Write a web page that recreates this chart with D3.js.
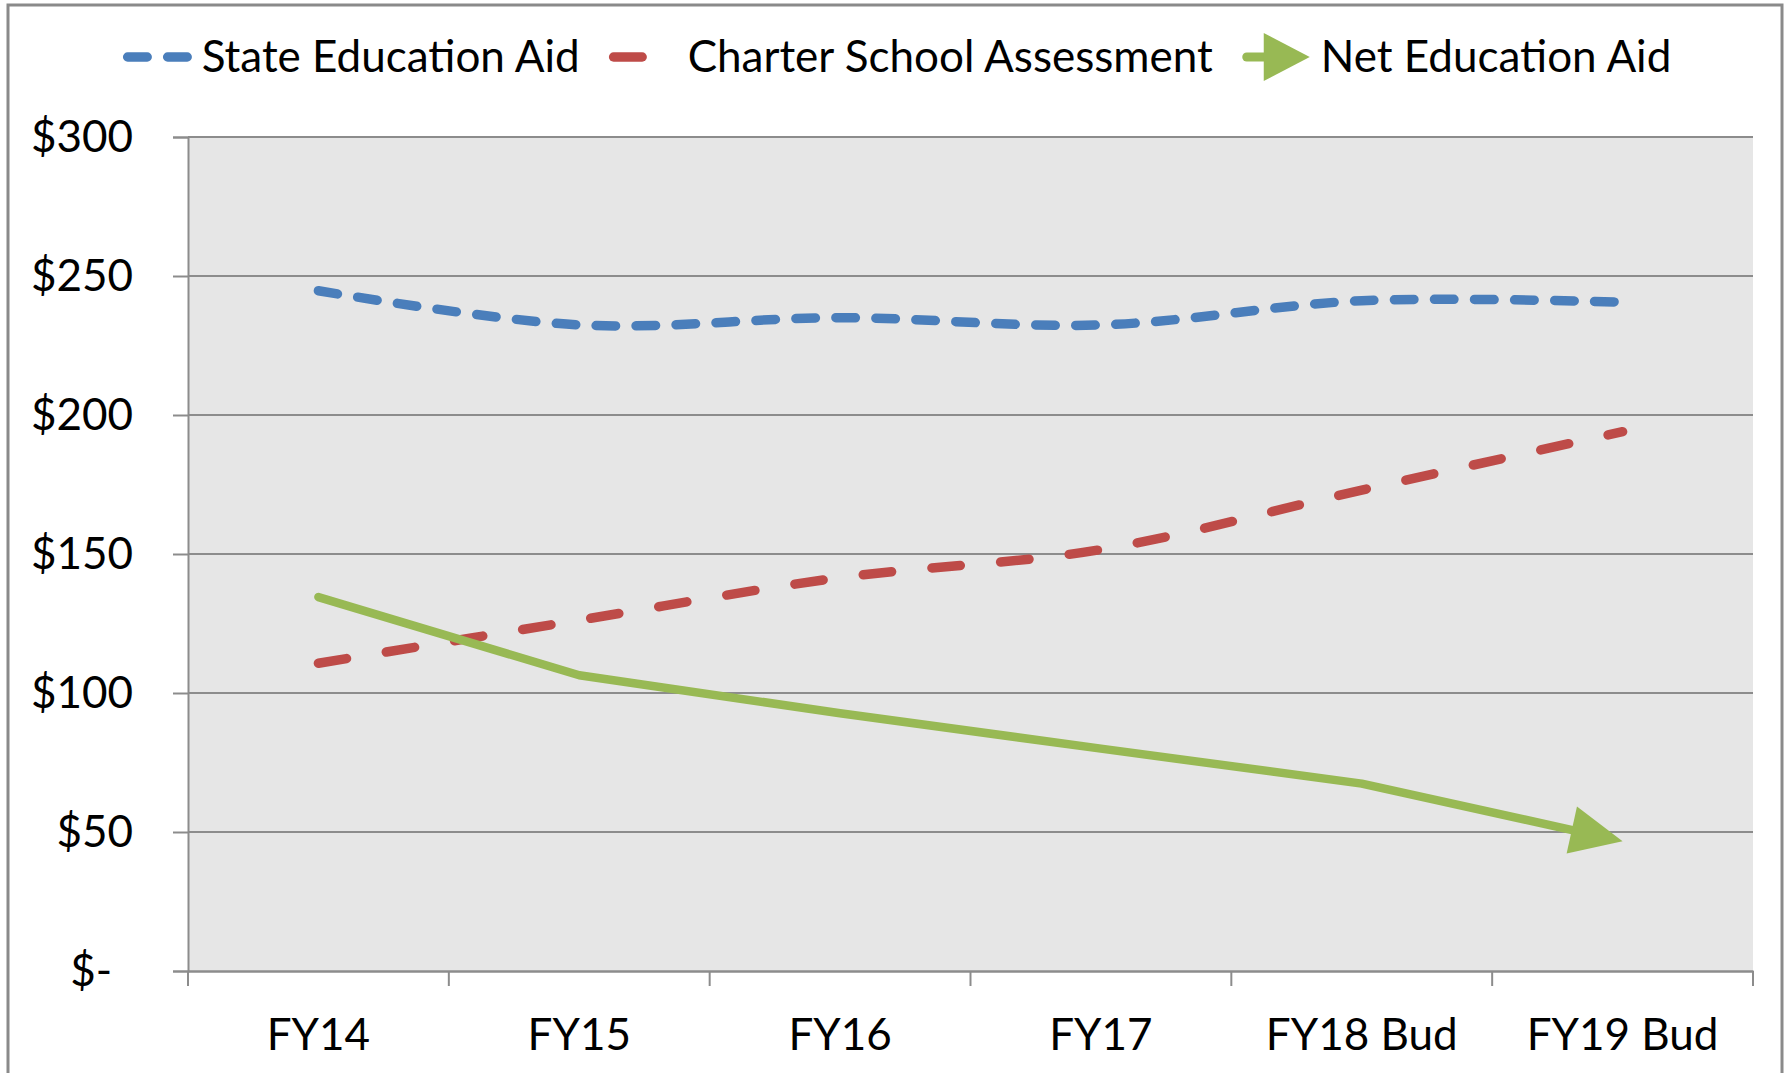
<!DOCTYPE html>
<html>
<head>
<meta charset="utf-8">
<title>Education aid lines</title>
<script src="https://cdn.jsdelivr.net/npm/d3@7"></script>
<style>
  body { margin: 0; background: #fff; }
  text { font-family: Lato, "Open Sans", sans-serif; fill: #000; }
</style>
</head>
<body>
<script>
// chart data
var categories = ["FY14", "FY15", "FY16", "FY17", "FY18 Bud", "FY19 Bud"];
var stateAid = [244.7, 232.4, 235.0, 232.4, 241.1, 240.6];
var charterAssessment = [110.7, 126.2, 141.5, 151.6, 173.0, 194.0];
var netAid = [134.5, 106.4, 92.7, 80.0, 67.4, 46.7];
var yTicks = [0, 50, 100, 150, 200, 250, 300];
var seriesNames = ["State Education Aid", "Charter School Assessment", "Net Education Aid"];

var width = 1787, height = 1073;
var plotLeft = 188, plotRight = 1753, plotTop = 137, plotBottom = 971;
var fontSize = 44;

var svg = d3.select("body").append("svg").attr("width", width).attr("height", height);

// outer chart border
svg.append("rect").attr("x", 8).attr("y", 5).attr("width", 1774).attr("height", 1100)
    .attr("fill", "#fff").attr("stroke", "#8a8a8a").attr("stroke-width", 3);

var x = d3.scaleBand().domain(categories).range([plotLeft, plotRight]).padding(0);
var y = d3.scaleLinear().domain([0, 300]).range([plotBottom, plotTop]);
var cx = function (d, i) { return x(categories[i]) + x.bandwidth() / 2; };

// plot area
svg.append("rect").attr("x", plotLeft).attr("y", plotTop)
    .attr("width", plotRight - plotLeft).attr("height", plotBottom - plotTop)
    .attr("fill", "#e6e6e6");

svg.append("g").selectAll("line").data(yTicks.filter(function (d) { return d > 0; })).enter().append("line")
    .attr("x1", plotLeft).attr("x2", plotRight)
    .attr("y1", function (d) { return y(d); }).attr("y2", function (d) { return y(d); })
    .attr("stroke", "#8c8c8c").attr("stroke-width", 2);

// y axis
var yAxis = svg.append("g").attr("transform", "translate(" + plotLeft + ",0)")
    .call(d3.axisLeft(y).tickValues(yTicks).tickSize(15).tickPadding(40)
        .tickFormat(function (d) { return d === 0 ? "$-" : "$" + d; }));
yAxis.select(".domain").attr("stroke", "#8c8c8c").attr("stroke-width", 2);
yAxis.selectAll(".tick line").attr("stroke", "#8c8c8c").attr("stroke-width", 2);
yAxis.selectAll(".tick text").attr("font-size", fontSize).attr("font-family", null)
    .attr("dx", function (d) { return d === 0 ? -21 : 0; });

// x axis
var xAxis = svg.append("g").attr("transform", "translate(0," + plotBottom + ")")
    .call(d3.axisBottom(x).tickSize(0).tickPadding(48).tickSizeOuter(0));
xAxis.select(".domain").attr("stroke", "#8c8c8c").attr("stroke-width", 2.5);
xAxis.selectAll(".tick text").attr("font-size", fontSize).attr("font-family", null);
xAxis.selectAll(".bound").data(categories.map(function (c) { return x(c); }).concat([plotRight]))
    .enter().append("line").attr("class", "bound")
    .attr("x1", function (d) { return d; }).attr("x2", function (d) { return d; })
    .attr("y1", 0).attr("y2", 15).attr("stroke", "#8c8c8c").attr("stroke-width", 2);

// series
var blue = "#4a7ebb", red = "#be4b48", green = "#98b954";
var blueDash = "19.5,20.5", redDash = "28.5,40.5";

var smooth = d3.line().x(cx).y(function (d) { return y(d); }).curve(d3.curveCardinal.tension(0));

svg.append("path").datum(stateAid).attr("d", smooth)
    .attr("fill", "none").attr("stroke", blue).attr("stroke-width", 9.5)
    .attr("stroke-linecap", "round").attr("stroke-dasharray", blueDash);

svg.append("path").datum(charterAssessment).attr("d", smooth)
    .attr("fill", "none").attr("stroke", red).attr("stroke-width", 9.5)
    .attr("stroke-linecap", "round").attr("stroke-dasharray", redDash);

// net aid: straight segments ending in an arrow head at the last point
var pts = netAid.map(function (d, i) { return [cx(d, i), y(d)]; });
var tip = pts[pts.length - 1], prev = pts[pts.length - 2];
var ang = Math.atan2(tip[1] - prev[1], tip[0] - prev[0]);
var headLen = 52, headHalf = 24;
var linePts = pts.slice(0, -1).concat([[tip[0] - Math.cos(ang) * (headLen - 4), tip[1] - Math.sin(ang) * (headLen - 4)]]);
svg.append("path").datum(linePts).attr("d", d3.line())
    .attr("fill", "none").attr("stroke", green).attr("stroke-width", 8.5)
    .attr("stroke-linecap", "round").attr("stroke-linejoin", "round");
svg.append("path")
    .attr("d", "M0,0L" + (-headLen) + "," + (-headHalf) + "L" + (-headLen) + "," + headHalf + "Z")
    .attr("transform", "translate(" + tip[0] + "," + tip[1] + ") rotate(" + (ang * 180 / Math.PI) + ")")
    .attr("fill", green);

// legend
var legend = svg.append("g");
var sampleW = 68, sampleGap = 11, itemGap = 29, legendY = 57;
var items = legend.selectAll("g").data(seriesNames).enter().append("g");
items.append("text").text(function (d) { return d; }).attr("font-size", fontSize)
    .attr("x", sampleW + sampleGap).attr("y", legendY).attr("dy", "0.35em");
var widths = [];
items.each(function () { widths.push(d3.select(this).select("text").node().getComputedTextLength()); });
var total = d3.sum(widths) + seriesNames.length * (sampleW + sampleGap) + (seriesNames.length - 1) * itemGap;
var pos = 897 - total / 2;
items.attr("transform", function (d, i) {
    var t = "translate(" + pos + ",0)";
    pos += sampleW + sampleGap + widths[i] + itemGap;
    return t;
});
items.filter(function (d, i) { return i === 0; }).append("line")
    .attr("x1", 5).attr("x2", sampleW).attr("y1", legendY).attr("y2", legendY)
    .attr("stroke", blue).attr("stroke-width", 9.5).attr("stroke-linecap", "round").attr("stroke-dasharray", blueDash);
items.filter(function (d, i) { return i === 1; }).append("line")
    .attr("x1", 5).attr("x2", sampleW).attr("y1", legendY).attr("y2", legendY)
    .attr("stroke", red).attr("stroke-width", 9.5).attr("stroke-linecap", "round").attr("stroke-dasharray", redDash);
var g3 = items.filter(function (d, i) { return i === 2; });
g3.append("line").attr("x1", 5).attr("x2", 30).attr("y1", legendY).attr("y2", legendY)
    .attr("stroke", green).attr("stroke-width", 9).attr("stroke-linecap", "round");
g3.append("path").attr("d", "M" + sampleW + "," + legendY + "L22," + (legendY - 24) + "L22," + (legendY + 24) + "Z")
    .attr("fill", green);
</script>
</body>
</html>
